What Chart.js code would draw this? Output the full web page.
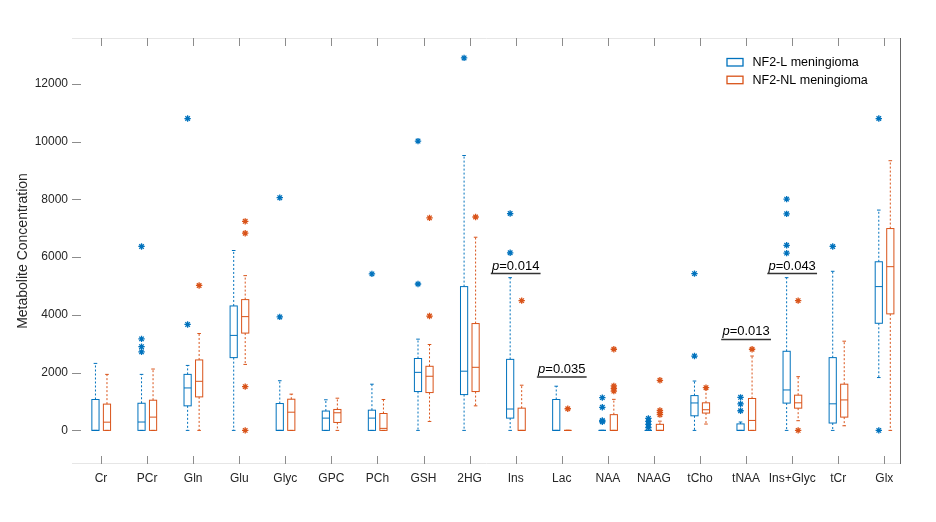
<!DOCTYPE html>
<html>
<head>
<meta charset="utf-8">
<script src="https://cdn.jsdelivr.net/npm/chart.js@4"></script>
<style>
  html, body { margin: 0; padding: 0; background: #fff; }
  #wrap { width: 936px; height: 522px; }
</style>
</head>
<body>
<div id="wrap"><canvas id="boxChart" width="936" height="522"></canvas></div>
<script>
const categories = ['Cr', 'PCr', 'Gln', 'Glu', 'Glyc', 'GPC', 'PCh', 'GSH', '2HG', 'Ins', 'Lac', 'NAA', 'NAAG', 'tCho', 'tNAA', 'Ins+Glyc', 'tCr', 'Glx'];
const yTicks = [0, 2000, 4000, 6000, 8000, 10000, 12000];

// NF2-L meningioma (blue)
const lLow    = [0, 0, 0, 0, 0, 0, 0, 0, 0, 0, 0, 0, 0, 0, 0, 0, 0, 1830];
const lQ1     = [0, 0, 850, 2520, 0, 0, 0, 1345, 1240, 425, 0, 0, 0, 505, 0, 945, 255, 3710];
const lMedian = [0, 290, 1470, 3290, 0, 425, 425, 2010, 2050, 740, 0, 0, 0, 950, 0, 1400, 920, 4980];
const lQ3     = [1070, 940, 1940, 4310, 930, 670, 700, 2490, 4980, 2460, 1070, 0, 0, 1205, 225, 2740, 2520, 5840];
const lHigh   = [2320, 1940, 2250, 6230, 1720, 1060, 1600, 3160, 9520, 5290, 1530, 0, 0, 1710, 290, 5290, 5510, 7630];
const lOutliers = [
  [], [2720, 2900, 3170, 6370], [3670, 10800], [], [3930, 8060], [], [5420], [5070, 10020], [12900],
  [6150, 7510], [], [300, 345, 800, 1135], [100, 210, 310, 415], [2575, 5430], [680, 915, 1145],
  [6140, 6410, 7500, 8010], [6370], [0, 10800]
];

// NF2-NL meningioma (orange)
const nlLow    = [0, 0, 0, 2285, 0, 0, 0, 310, 850, 0, 0, 0, 0, 220, 0, 335, 160, 0];
const nlQ1     = [0, 0, 1160, 3370, 0, 275, 0, 1310, 1345, 0, 0, 0, 0, 600, 0, 770, 460, 4035];
const nlMedian = [285, 460, 1700, 3940, 630, 610, 70, 1875, 2185, 0, 0, 0, 0, 715, 345, 955, 1055, 5670];
const nlQ3     = [910, 1045, 2440, 4530, 1080, 725, 585, 2220, 3700, 770, 0, 545, 210, 955, 1105, 1220, 1600, 6990];
const nlHigh   = [1940, 2125, 3355, 5360, 1255, 1115, 1070, 2975, 6690, 1565, 0, 1075, 320, 1440, 2575, 1860, 3090, 9340];
const nlOutliers = [
  [], [], [5020], [0, 1515, 6830, 7240], [], [], [], [3960, 7360], [7390],
  [4495], [750], [1360, 1450, 1540, 2810], [545, 620, 690, 1735], [1480], [2810],
  [0, 4495], [], []
];

// significance labels
const pCategory = ['Ins', 'Lac', 'tNAA', 'Ins+Glyc'];
const pText = ['0.014', '0.035', '0.013', '0.043'];
const pLineY = [5430, 1850, 3150, 5430];

const BLUE = '#0072BD';
const ORANGE = '#D95319';
const FONT = "'Liberation Sans', Arial, sans-serif";

const groups = [
  { label: 'NF2-L meningioma', color: BLUE, shift: -0.12, low: lLow, q1: lQ1, med: lMedian, q3: lQ3, high: lHigh, out: lOutliers },
  { label: 'NF2-NL meningioma', color: ORANGE, shift: 0.13, low: nlLow, q1: nlQ1, med: nlMedian, q3: nlQ3, high: nlHigh, out: nlOutliers }
];

function outlierPoints(g) {
  const pts = [];
  g.out.forEach((vals, i) => vals.forEach(v => pts.push({ x: i + 1 + g.shift, y: v })));
  return pts;
}

// boxes, whiskers, ticks, legend and p-values drawn with the chart's scales
const boxPlugin = {
  id: 'boxPlugin',
  beforeDatasetsDraw(chart) {
    const ctx = chart.ctx;
    const xs = chart.scales.x, ys = chart.scales.y;
    const half = 0.078;
    ctx.save();
    groups.forEach(g => {
      ctx.strokeStyle = g.color;
      ctx.lineWidth = 1;
      categories.forEach((c, i) => {
        const cx = i + 1 + g.shift;
        const xl = xs.getPixelForValue(cx - half);
        const xr = xs.getPixelForValue(cx + half);
        const xc = xs.getPixelForValue(cx);
        const yq1 = ys.getPixelForValue(g.q1[i]);
        const yq3 = ys.getPixelForValue(g.q3[i]);
        const ym = ys.getPixelForValue(g.med[i]);
        const ylo = ys.getPixelForValue(g.low[i]);
        const yhi = ys.getPixelForValue(g.high[i]);
        // whiskers
        ctx.setLineDash([2, 2]);
        ctx.beginPath();
        ctx.moveTo(xc, yq3); ctx.lineTo(xc, yhi);
        ctx.moveTo(xc, yq1); ctx.lineTo(xc, ylo);
        ctx.stroke();
        ctx.setLineDash([]);
        ctx.beginPath();
        ctx.moveTo(xc - 1.8, yhi); ctx.lineTo(xc + 1.8, yhi);
        ctx.moveTo(xc - 1.8, ylo); ctx.lineTo(xc + 1.8, ylo);
        ctx.stroke();
        // box
        ctx.strokeRect(xl, yq3, xr - xl, yq1 - yq3);
        ctx.beginPath();
        ctx.moveTo(xl, ym); ctx.lineTo(xr, ym);
        ctx.stroke();
      });
    });
    ctx.restore();
  },
  afterDraw(chart) {
    const ctx = chart.ctx;
    const a = chart.chartArea;
    const xs = chart.scales.x, ys = chart.scales.y;
    ctx.save();
    // axis lines
    ctx.lineWidth = 1;
    ctx.strokeStyle = '#e6e6e6';
    ctx.beginPath();
    ctx.moveTo(a.left, a.top + 0.5); ctx.lineTo(a.right, a.top + 0.5);
    ctx.moveTo(a.left, a.bottom - 0.5); ctx.lineTo(a.right, a.bottom - 0.5);
    ctx.stroke();
    ctx.strokeStyle = '#666';
    ctx.beginPath();
    ctx.moveTo(a.right - 0.5, a.top); ctx.lineTo(a.right - 0.5, a.bottom);
    ctx.stroke();
    // inward tick marks
    ctx.strokeStyle = '#8c8c8c';
    ctx.beginPath();
    categories.forEach((c, i) => {
      const x = Math.round(xs.getPixelForValue(i + 1)) + 0.5;
      ctx.moveTo(x, a.bottom); ctx.lineTo(x, a.bottom - 8);
      ctx.moveTo(x, a.top); ctx.lineTo(x, a.top + 8);
    });
    yTicks.forEach(v => {
      const y = Math.round(ys.getPixelForValue(v)) + 0.5;
      ctx.moveTo(a.left, y); ctx.lineTo(a.left + 9, y);
    });
    ctx.stroke();
    // p-value annotations
    ctx.fillStyle = '#000';
    ctx.strokeStyle = '#333';
    ctx.lineWidth = 1.5;
    ctx.textAlign = 'left';
    ctx.textBaseline = 'alphabetic';
    pCategory.forEach((c, k) => {
      const ci = categories.indexOf(c) + 1;
      const x0 = xs.getPixelForValue(ci - 0.54);
      const x1 = xs.getPixelForValue(ci + 0.54);
      const y = ys.getPixelForValue(pLineY[k]);
      ctx.beginPath();
      ctx.moveTo(x0, y); ctx.lineTo(x1, y);
      ctx.stroke();
      ctx.font = 'italic 13px ' + FONT;
      const pw = ctx.measureText('p').width;
      ctx.font = '13px ' + FONT;
      const rest = '=' + pText[k];
      const rw = ctx.measureText(rest).width;
      const start = (x0 + x1) / 2 - (pw + rw) / 2;
      ctx.font = 'italic 13px ' + FONT;
      ctx.fillText('p', start, y - 4);
      ctx.font = '13px ' + FONT;
      ctx.fillText(rest, start + pw, y - 4);
    });
    // legend
    ctx.font = '12.5px ' + FONT;
    ctx.textBaseline = 'middle';
    ctx.lineWidth = 1.3;
    groups.forEach((g, k) => {
      const top = 58.5 + k * 17.7;
      ctx.fillStyle = '#fff';
      ctx.strokeStyle = g.color;
      ctx.strokeRect(727, top, 16, 7.5);
      ctx.fillStyle = '#000';
      ctx.fillText(g.label, 752.5, top + 4);
    });
    ctx.restore();
  }
};

new Chart(document.getElementById('boxChart').getContext('2d'), {
  type: 'scatter',
  data: {
    datasets: groups.map(g => ({
      label: g.label,
      data: outlierPoints(g),
      pointStyle: 'star',
      radius: 3.2,
      borderColor: g.color,
      backgroundColor: g.color,
      borderWidth: 1.3
    }))
  },
  options: {
    responsive: false,
    animation: false,
    events: [],
    layout: { padding: { top: 38, right: 35, bottom: 0, left: 0 } },
    plugins: {
      legend: { display: false },
      tooltip: { enabled: false }
    },
    scales: {
      x: {
        type: 'linear',
        min: 0.371,
        max: 18.362,
        grid: { display: false, drawTicks: false },
        border: { display: false },
        afterBuildTicks: scale => { scale.ticks = categories.map((c, i) => ({ value: i + 1 })); },
        afterFit: scale => { scale.height = 58; },
        ticks: {
          autoSkip: false,
          maxRotation: 0,
          padding: 7,
          color: '#262626',
          font: { family: FONT, size: 12 },
          callback: v => categories[Math.round(v) - 1]
        }
      },
      y: {
        min: -1164,
        max: 13590,
        grid: { display: false, drawTicks: false },
        border: { display: false },
        afterBuildTicks: scale => { scale.ticks = yTicks.map(v => ({ value: v })); },
        afterFit: scale => { scale.width = 72; },
        ticks: {
          padding: 4,
          color: '#262626',
          font: { family: FONT, size: 12 },
          callback: v => String(v)
        },
        title: {
          display: true,
          text: 'Metabolite Concentration',
          color: '#262626',
          font: { family: FONT, size: 14 },
          padding: { top: 15, bottom: 0 }
        }
      }
    }
  },
  plugins: [boxPlugin]
});
</script>
</body>
</html>
